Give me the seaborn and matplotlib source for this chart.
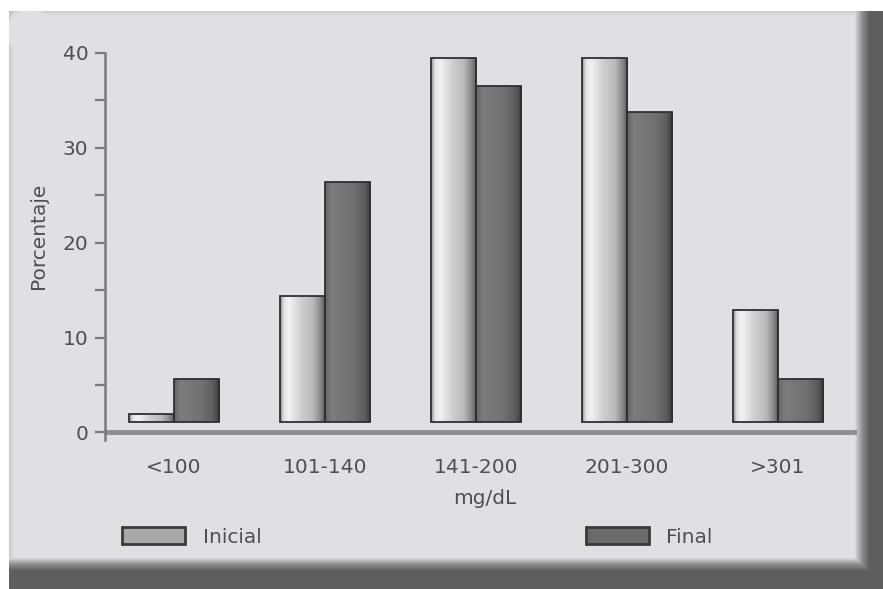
import numpy as np
import pandas as pd
import matplotlib
matplotlib.use("Agg")
import matplotlib.pyplot as plt
from matplotlib.colors import LinearSegmentedColormap
from matplotlib.patches import Patch
import seaborn as sns

# ---- data -------------------------------------------------------------
rangos = ["<100", "101-140", "141-200", "201-300", ">301"]
inicial = [1.9, 14.4, 39.5, 39.5, 12.9]
final = [5.6, 26.4, 36.5, 33.8, 5.6]
series = ["Inicial", "Final"]
y_ticks = [0, 10, 20, 30, 40]
y_minor = [5, 15, 25, 35]
PISO = 1.1  # raised floor the 3-D columns stand on

df = pd.DataFrame({
    "rango": rangos * 2,
    "serie": [series[0]] * len(rangos) + [series[1]] * len(rangos),
    "valor": inicial + final,
})
df["alto"] = df["valor"] - PISO

sns.set_theme(style="white")
plt.rcParams["font.family"] = ["DejaVu Sans"]
TXT = "#4f4f4f"
FS = 14.5

W, H = 883, 589
fig = plt.figure(figsize=(W / 100, H / 100), dpi=100)
fig.patch.set_facecolor("white")

# ---- bevelled frame behind the chart ---------------------------------
panel = 0.882
xs = np.arange(W, dtype=float)
ys = np.arange(H, dtype=float)
lft = np.interp(xs, [9, 12, 22, 33, 46], [0.80, 0.86, 0.97, 1.0, panel])
top = np.interp(ys, [11, 14, 24, 35, 47], [0.80, 0.86, 0.97, 1.0, panel])
rgt = np.interp(xs, [854, 862, 869], [panel, 0.55, 0.37])
bot = np.interp(ys, [557, 564, 570], [panel, 0.55, 0.37])
v = panel + (lft[None, :] - panel) + (top[:, None] - panel)
v = np.clip(v, 0, 1)
v = np.minimum(v, rgt[None, :])
v = np.minimum(v, bot[:, None])
v[:, :9] = 1.0
v[:11, :] = 1.0
img = np.dstack([v, v, np.clip(v * 1.01, 0, 1)])

bg = fig.add_axes([0, 0, 1, 1], zorder=0)
bg.imshow(img, aspect="auto", interpolation="bilinear")
bg.axis("off")

# ---- main axes -------------------------------------------------------
ax = fig.add_axes([105 / W, (H - 440) / H, 752 / W, 387 / H], zorder=1)
ax.patch.set_alpha(0)

sns.barplot(data=df, x="rango", y="alto", hue="serie", order=rangos,
            hue_order=series, palette={"Inicial": "#cfcfcf", "Final": "#6e6e6e"},
            width=0.6, bottom=PISO, edgecolor="#2f2f2f", linewidth=1.3,
            saturation=1, errorbar=None, legend=False, ax=ax)

# shaded faces for the columns
cm_ini = LinearSegmentedColormap.from_list("ini", [
    (0.0, "#8a8a8a"), (0.08, "#e4e4e4"), (0.2, "#f2f2f2"), (0.45, "#d0d0d0"),
    (0.72, "#bababa"), (0.88, "#8a8a8a"), (1.0, "#555555")])
cm_fin = LinearSegmentedColormap.from_list("fin", [
    (0.0, "#666666"), (0.15, "#7c7c7c"), (0.6, "#717171"),
    (0.85, "#5e5e5e"), (1.0, "#3c3c3c")])
grad = np.linspace(0, 1, 128)[None, :]
for cont, cmap in zip(ax.containers, [cm_ini, cm_fin]):
    for bar in cont:
        x0, y0 = bar.get_x(), bar.get_y()
        w, h = bar.get_width(), bar.get_height()
        im = ax.imshow(grad, cmap=cmap, extent=(x0, x0 + w, y0, y0 + h),
                       aspect="auto", zorder=2, interpolation="bicubic")
        im.set_clip_path(bar)
        bar.set_facecolor("none")
        bar.set_zorder(3)

ax.set_xlim(-0.457, 4.523)
ax.set_ylim(-0.8, 40)
ax.set_aspect("auto")

# x axis drawn as a heavy rule at zero
ax.axhline(0, color="#8e8e8e", lw=3.5, zorder=1.5)
for s in ["top", "right", "bottom"]:
    ax.spines[s].set_visible(False)
ax.spines["left"].set_color("#7a7a7a")
ax.spines["left"].set_linewidth(1.8)

ax.set_yticks(y_ticks)
ax.set_yticks(y_minor, minor=True)
ax.tick_params(axis="y", which="both", left=True, length=7, width=1.6,
               color="#7a7a7a", pad=5, labelsize=FS, labelcolor=TXT)
ax.tick_params(axis="x", length=0, pad=13, labelsize=FS, labelcolor=TXT)
ax.set_xticks(range(len(rangos)))
ax.set_xticklabels(rangos)

ax.set_xlabel("mg/dL", fontsize=FS, color=TXT)
ax.xaxis.set_label_coords(0.505, -0.127)
ax.set_ylabel("Porcentaje", fontsize=FS, color=TXT)
ax.yaxis.label.set_va("center")
ax.yaxis.set_label_coords(-0.089, 0.527)

handles = [Patch(facecolor="#a9a9a9", edgecolor="#3a3a3a", linewidth=2),
           Patch(facecolor="#6a6a6a", edgecolor="#3a3a3a", linewidth=2)]
fig.legend(handles, series, loc="center left", bbox_to_anchor=(122 / W, (H - 537) / H),
           ncol=2, frameon=False, handlelength=3.15, handleheight=0.85,
           handletextpad=0.85, columnspacing=16.1, fontsize=FS, borderpad=0,
           borderaxespad=0, labelcolor=TXT)

fig.savefig("out.png", dpi=100)
